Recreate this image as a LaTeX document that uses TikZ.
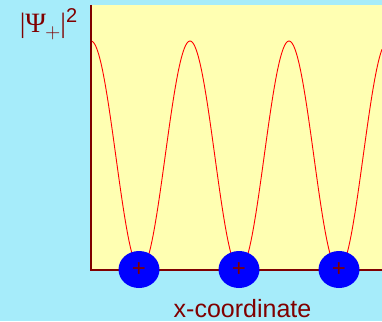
\documentclass[tikz,border=0pt]{standalone}
\usepackage{fontspec}
\setmainfont{Liberation Sans}
\newfontfamily\psifont{Liberation Serif}
\usepackage{xcolor}
\usetikzlibrary{shapes.geometric}

\definecolor{skybg}{RGB}{166,236,250}
\definecolor{paneyellow}{RGB}{255,255,178}
\definecolor{axisred}{RGB}{128,0,0}

\begin{document}
\begin{tikzpicture}[
  x=1pt,y=1pt,
  ion/.style={ellipse,fill=blue,draw=none,minimum width=41pt,minimum height=37pt,
              inner sep=0pt,text=axisred,font=\fontsize{24}{24}\selectfont},
  lbl/.style={text=axisred,inner sep=0pt},
  axis/.style={axisred,line width=1.3pt},
  wave/.style={red,line width=0.9pt}]

  % background and plot area
  \fill[skybg] (0,0) rectangle (382,321);
  \useasboundingbox (0,0) rectangle (382,321);
  \fill[paneyellow] (91,51) rectangle (382,316);

  % probability density
  \draw[wave] plot[domain=0:291,samples=300,smooth]
    ({91+\x},{51+229*(cos(1.81818*\x))^2});

  % axes
  \coordinate (origin) at (91,51);
  \coordinate (ytop) at (91,316);
  \coordinate (xend) at (382,51);
  \draw[axis] (ytop) -- (origin) -- (xend);

  % ions at the minima
  \foreach \k/\xc in {1/139,2/239,3/339}
    \node[ion] (ion\k) at (\xc,51.5) {\raisebox{-1pt}{+}};

  % labels
  \node[lbl,anchor=base,font=\fontsize{25}{25}\selectfont] (xlab) at (242.5,4) {x-coordinate};
  \node[lbl,font=\fontsize{28}{28}\selectfont\psifont] (ylab) at (48.5,297)
    {|Ψ\raisebox{-6pt}{\fontsize{21}{21}\selectfont\sffamily\kern-1pt +}|\raisebox{10pt}{\fontsize{20}{20}\selectfont\rmfamily 2}};
\end{tikzpicture}
\end{document}
